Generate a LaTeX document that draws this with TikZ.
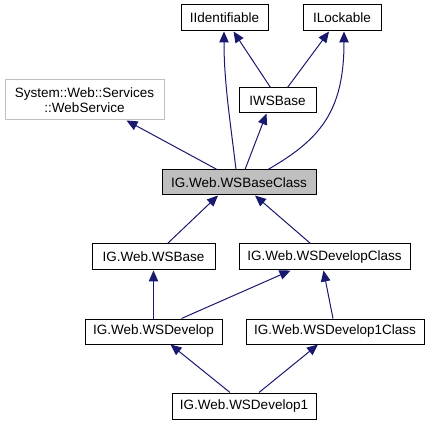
\documentclass[tikz,border=0pt]{standalone}
\usepackage{fontspec}
\setmainfont{Liberation Sans}
\usetikzlibrary{arrows.meta}
\definecolor{edgeblue}{HTML}{191970}
\definecolor{focusgray}{HTML}{BFBFBF}
\definecolor{extgray}{HTML}{BFBFBF}
\tikzset{
  cls/.style={draw=black, line width=1pt, fill=white, inner sep=0pt, anchor=center,
    font=\fontsize{13.5}{15}\selectfont, text=black},
  focus/.style={cls, fill=focusgray},
  ext/.style={cls, draw=extgray, align=center},
  inh/.style={draw=edgeblue, line width=1pt, -{Triangle[length=11pt,width=9.5pt]}},
}
\begin{document}
\begin{tikzpicture}[x=1pt,y=-1pt]
\useasboundingbox (0,0) rectangle (429,425);
\fill[white] (0,0) rectangle (429,425);
% nodes
\node[cls, minimum width=87pt, minimum height=26pt] (iid) at (224.5,18) {IIdentifiable};
\node[cls, minimum width=78pt, minimum height=26pt] (ilock) at (342,18) {ILockable};
\node[ext, minimum width=159pt, minimum height=40pt] (websvc) at (84.5,100) {System::Web::Services\\::WebService};
\node[cls, minimum width=77pt, minimum height=25pt] (iwsbase) at (277.5,100.5) {IWSBase};
\node[focus, minimum width=154pt, minimum height=25pt] (baseclass) at (239,182.5) {IG.Web.WSBaseClass};
\node[cls, minimum width=123pt, minimum height=26pt] (wsbase) at (153.5,257) {IG.Web.WSBase};
\node[cls, minimum width=171pt, minimum height=26pt] (devclass) at (324.5,257) {IG.Web.WSDevelopClass};
\node[cls, minimum width=137pt, minimum height=25pt] (develop) at (153.5,331.5) {IG.Web.WSDevelop};
\node[cls, minimum width=178pt, minimum height=25pt] (dev1class) at (335,331.5) {IG.Web.WSDevelop1Class};
\node[cls, minimum width=144pt, minimum height=26pt] (develop1) at (244,406) {IG.Web.WSDevelop1};
% edges
\draw[inh] ([xshift=-22pt]baseclass.north) -- ([xshift=42pt]websvc.south);
\draw[inh] ([xshift=-3pt]baseclass.north) .. controls ([xshift=-9pt,yshift=50pt]baseclass.north) and ([xshift=-0.5pt,yshift=-50pt]iid.south) .. ([xshift=-0.5pt]iid.south);
\draw[inh] ([xshift=6pt]baseclass.north) -- ([xshift=-11pt]iwsbase.south);
\draw[inh] ([xshift=29pt]baseclass.north) .. controls ([xshift=81pt,yshift=30pt]baseclass.north) and ([xshift=2pt,yshift=-80pt]ilock.south) .. ([xshift=2pt]ilock.south);
\draw[inh] ([xshift=-7pt]iwsbase.north) -- ([xshift=9pt]iid.south);
\draw[inh] ([xshift=10pt]iwsbase.north) -- ([xshift=-13pt]ilock.south);
\draw[inh] ([xshift=14pt]wsbase.north) -- ([xshift=-21pt]baseclass.south);
\draw[inh] ([xshift=-14pt]devclass.north) -- ([xshift=16pt]baseclass.south);
\draw[inh] (develop.north -| wsbase.south) -- (wsbase.south);
\draw[inh] ([xshift=28pt]develop.north) -- ([xshift=-34pt]devclass.south);
\draw[inh] ([xshift=-2pt]dev1class.north) -- ([xshift=-1pt]devclass.south);
\draw[inh] ([xshift=-14pt]develop1.north) -- ([xshift=17pt]develop.south);
\draw[inh] ([xshift=15pt]develop1.north) -- ([xshift=-17pt]dev1class.south);
\end{tikzpicture}
\end{document}
